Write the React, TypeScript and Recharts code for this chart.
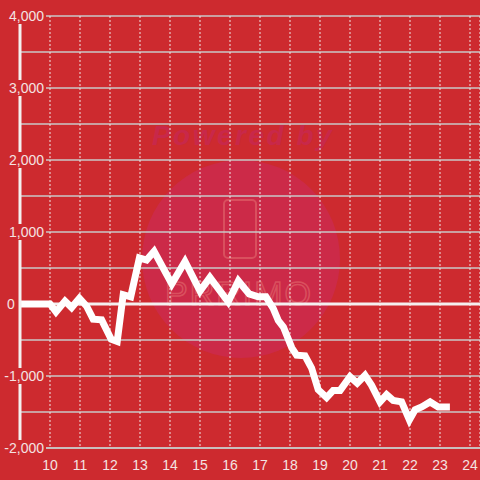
import React from 'react'
import {
  CartesianGrid,
  Line,
  LineChart,
  ReferenceLine,
  XAxis,
  YAxis,
} from 'recharts'

// time of day (hours) and running value
const hours = [
  9.0, 10.0, 10.2, 10.5, 10.72, 10.98, 11.22, 11.44, 11.72, 12.04, 12.24, 12.44, 12.69,
  12.98, 13.22, 13.47, 14.06, 14.5, 15.0, 15.33, 15.94, 16.28, 16.64, 16.94, 17.2,
  17.44, 17.61, 17.78, 18.06, 18.22, 18.5, 18.72, 18.94, 19.22, 19.44, 19.67, 20.0,
  20.24, 20.5, 20.72, 21.0, 21.22, 21.44, 21.72, 21.98, 22.17, 22.39, 22.67, 22.94, 23.33,
]
const values = [
  0, 0, -110, 40, -50, 80, -30, -210, -220, -490, -520, 130, 100,
  640, 610, 730, 280, 590, 180, 370, 30, 320, 140, 100, 100,
  -60, -230, -320, -610, -710, -720, -890, -1190, -1300, -1200, -1200, -1010,
  -1100, -990, -1130, -1360, -1260, -1340, -1360, -1610, -1470, -1430, -1360, -1430, -1430,
]
const xTicks = [10, 11, 12, 13, 14, 15, 16, 17, 18, 19, 20, 21, 22, 23, 24]
const yTicks = [-2000, -1500, -1000, -500, 0, 500, 1000, 1500, 2000, 2500, 3000, 3500, 4000]

const BG = '#cd2a2f'
const LABEL = '#f4e2e2'
const FONT = '"Liberation Sans", Arial, sans-serif'

const data = hours.map((h, i) => ({ h, v: values[i] }))

function YTick({ y, payload }: any) {
  const v = payload.value as number
  if (v % 1000 !== 0) return null
  const isZero = v === 0
  return (
    <g>
      {!isZero && <rect x={0} y={y - 8} width={46} height={16} fill={BG} />}
      <text
        x={isZero ? 7 : 44}
        y={y}
        dy={5}
        textAnchor={isZero ? 'start' : 'end'}
        fill={LABEL}
        fontSize={14}
        fontFamily={FONT}
      >
        {v.toLocaleString('en-US')}
      </text>
    </g>
  )
}

// faint logo behind the plot
function Watermark() {
  return (
    <svg width={480} height={480} style={{ position: 'absolute', left: 0, top: 0 }}>
      <text
        x={243}
        y={145}
        textAnchor="middle"
        fontSize={28}
        fontWeight="bold"
        fontStyle="italic"
        fontFamily={FONT}
        letterSpacing={2.5}
        fill="#c8284a"
      >
        Powered by
      </text>
      <circle cx={241} cy={259} r={99} fill="#cc2a48" />
      <rect x={224} y={200} width={32} height={58} rx={4} fill="none" stroke="#d9505e" strokeWidth={2} />
      <text
        x={239}
        y={305}
        textAnchor="middle"
        fontSize={34}
        fontFamily={FONT}
        fill="none"
        stroke="#d9505e"
        strokeWidth={1.5}
        letterSpacing={2}
      >
        PRRIMO
      </text>
    </svg>
  )
}

export default function App() {
  return (
    <div style={{ position: 'absolute', left: 0, top: 0, width: 480, height: 480, background: BG }}>
      <Watermark />
      <div style={{ position: 'absolute', left: 0, top: 0 }}>
        <LineChart width={480} height={480} data={data} margin={{ top: 16, right: 0, bottom: 0, left: 0 }}>
          <CartesianGrid horizontal vertical={false} stroke="#c9c9c9" strokeWidth={1.5} />
          <CartesianGrid horizontal={false} vertical stroke="#f0e6e6" strokeDasharray="2 2" strokeWidth={1} />
          <XAxis
            dataKey="h"
            type="number"
            domain={[9, 24.3333]}
            ticks={xTicks}
            allowDataOverflow
            height={32}
            axisLine={{ stroke: '#c9c9c9', strokeWidth: 1.5 }}
            tickLine={false}
            tick={{ fill: LABEL, fontSize: 14, fontFamily: FONT, dy: 4 }}
          />
          <YAxis
            type="number"
            domain={[-2000, 4000]}
            ticks={yTicks}
            width={20}
            axisLine={{ stroke: '#f4f0f0', strokeWidth: 3 }}
            tickLine={false}
            tick={<YTick />}
          />
          <ReferenceLine y={0} stroke="#f4f0f0" strokeWidth={3} />
          <Line
            type="linear"
            dataKey="v"
            stroke="#ffffff"
            strokeWidth={7}
            dot={false}
            isAnimationActive={false}
          />
        </LineChart>
      </div>
    </div>
  )
}
